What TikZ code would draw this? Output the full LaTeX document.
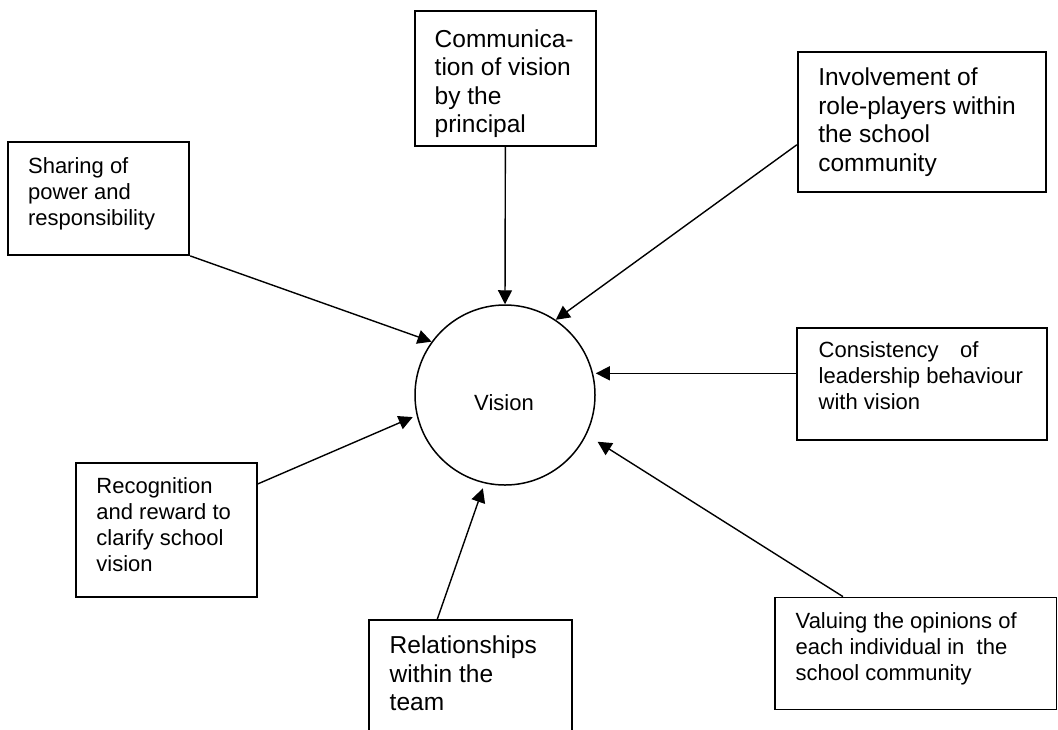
\documentclass[tikz,border=0pt]{standalone}
\usepackage{fontspec}
\setmainfont{Liberation Sans}
\usetikzlibrary{arrows.meta}
\begin{document}
\begin{tikzpicture}[x=0.5pt,y=-0.5pt,
  boxnode/.style={draw, rectangle, line width=0.9pt, inner sep=0pt},
  txt/.style={anchor=north west, inner sep=0pt, align=left},
  smallfont/.style={font=\fontsize{11}{13}\selectfont},
  largefont/.style={font=\fontsize{12.25}{14.3}\selectfont},
  visionnode/.style={draw, circle, line width=0.75pt, inner sep=0pt, minimum size=90pt},
  arr/.style={-{Triangle[length=7pt,width=7pt]}, line width=0.7pt}]
\useasboundingbox (0,0) rectangle (1058,729);
\clip (0,0) rectangle (1058,729);
% boxes
\node[boxnode, minimum width=90.5pt, minimum height=56.35pt] (sh) at (98.8,198.65) {};
\node[boxnode, minimum width=90.35pt, minimum height=67.5pt] (c) at (505.35,78.2) {};
\node[boxnode, minimum width=124.15pt, minimum height=70.3pt] (inv) at (921.85,122) {};
\node[boxnode, minimum width=124.85pt, minimum height=56.15pt] (cs) at (922.15,383.85) {};
\node[boxnode, minimum width=140.75pt, minimum height=56pt] (val) at (915.75,653.5) {};
\node[boxnode, minimum width=90.35pt, minimum height=67.3pt] (rec) at (166.35,530) {};
\node[boxnode, minimum width=101.2pt, minimum height=60pt] (rel) at (470.5,680) {};
% circle
\node[visionnode] (v) at (505,395) {};
% texts
\node[txt, smallfont] (sht) at (27.7,154.5) {\strut Sharing of\\power and\\responsibility};
\node[txt, largefont] (ct) at (434.3,26.7) {\strut Communica-\\tion of vision\\by the\\principal};
\node[txt, largefont] (invt) at (817.9,65) {\strut Involvement of\\role-players within\\the school\\community};
\node[txt, smallfont] (cst) at (818.3,338.5) {\strut Consistency\hspace{10.8pt}of\\leadership behaviour\\with vision};
\node[txt, smallfont] (valt) at (795.3,610.3) {\strut Valuing the opinions of\\each individual in\ \ the\\school community};
\node[txt, smallfont] (rect) at (96,475.1) {\strut Recognition\\and reward to\\clarify school\\vision};
\node[txt, largefont] (relt) at (389.3,633.3) {\strut Relationships\\within the\\team};
\node[smallfont, anchor=base, inner sep=0pt] (vt) at (504,410.7) {Vision};
% connectors
\draw[arr] (sh.south east) -- (v.144.5);
\draw[arr] (c.south) -- (v.north);
\draw[arr] ([yshift=-11.4pt]inv.west) -- (v.56.5);
\draw[arr] ([yshift=5.27pt]cs.west) -- ([yshift=5.27pt]cs.west -| v.east);
\draw[arr, shorten >=6.5pt] ([xshift=-36.4pt]val.north) -- (v.-26.25);
\draw[arr, shorten >=2.6pt] ([xshift=-16.6pt]rel.north) -- (v.-103.4);
\draw[arr, shorten >=2.1pt] ([yshift=23pt]rec.east) -- (v.193.95);
\end{tikzpicture}
\end{document}
